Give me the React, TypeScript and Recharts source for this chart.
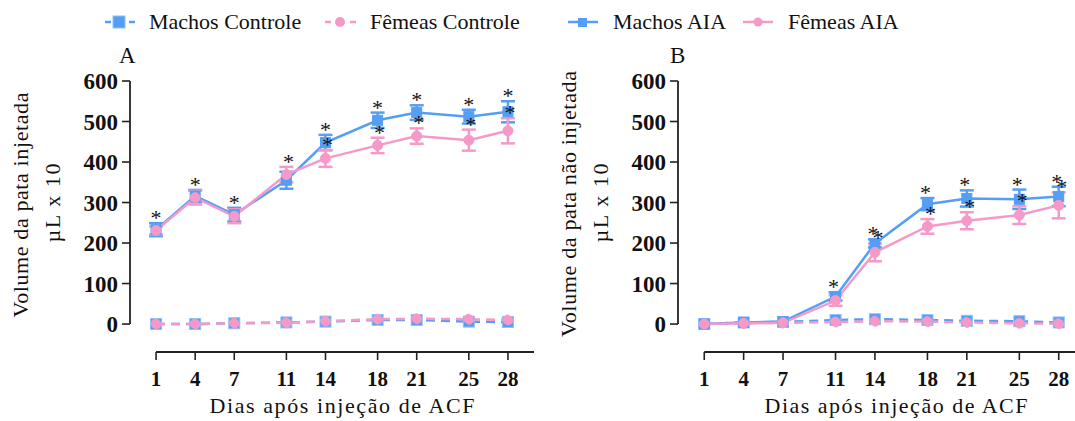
import React from 'react';
import { ComposedChart, Line, XAxis, YAxis, ErrorBar, ReferenceLine, Scatter } from 'recharts';

const FONT = "'Liberation Serif', 'Times New Roman', serif";
const BLUE = '#559ef5';
const BLUE_EDGE = '#8fc2fa';
const PINK = '#f59ac8';
const AXIS = '#222';

// Shared categories / ticks
const days = [1, 4, 7, 11, 14, 18, 21, 25, 28];
const yTicks = [0, 100, 200, 300, 400, 500, 600];

// Panel A – pata injetada
const machosControleA = [0, 0, 2, 4, 6, 10, 10, 6, 5];
const femeasControleA = [0, 0, 2, 3, 7, 12, 13, 12, 10];
const machosAIA_A = [233, 316, 270, 355, 448, 503, 522, 512, 524];
const machosAIAErrA = [16, 15, 17, 21, 19, 19, 18, 17, 26];
const femeasAIA_A = [231, 312, 266, 369, 409, 441, 464, 454, 477];
const femeasAIAErrA = [10, 17, 17, 19, 21, 19, 19, 26, 31];
const starsMachosA = [1, 1, 1, 0, 1, 1, 1, 1, 1];
const starsFemeasA = [0, 0, 0, 1, 1, 1, 1, 1, 1];

// Panel B – pata não injetada
const machosControleB = [0, 4, 5, 10, 12, 10, 8, 7, 4];
const femeasControleB = [0, 2, 3, 5, 7, 6, 4, 2, 1];
const machosAIA_B = [0, 4, 6, 68, 199, 296, 310, 308, 315];
const machosAIAErrB = [0, 0, 0, 10, 10, 15, 20, 24, 24];
const femeasAIA_B = [0, 2, 3, 58, 177, 241, 255, 269, 293];
const femeasAIAErrB = [0, 0, 0, 13, 22, 18, 21, 22, 32];
const starsMachosB = [0, 0, 0, 1, 1, 1, 1, 1, 1];
const starsFemeasB = [0, 0, 0, 0, 1, 1, 1, 1, 1];

function buildRows(mc: number[], fc: number[], ma: number[], maErr: number[], fa: number[], faErr: number[]) {
  return days.map((d, i) => ({
    day: d,
    mc: mc[i],
    fc: fc[i],
    ma: ma[i],
    maErr: maErr[i] ? maErr[i] : null,
    fa: fa[i],
    faErr: faErr[i] ? faErr[i] : null,
  }));
}

function buildStars(vals: number[], errs: number[], flags: number[]) {
  const out: { day: number; top: number }[] = [];
  days.forEach((d, i) => {
    if (flags[i]) out.push({ day: d, top: vals[i] + errs[i] });
  });
  return out;
}

const squareDot = (size: number, fill: string, stroke: string) => (p: any) => {
  if (p.cx == null || p.cy == null) return <g key={`sq-${p.index}`} />;
  return (
    <rect
      key={`sq-${p.index}`}
      x={p.cx - size / 2}
      y={p.cy - size / 2}
      width={size}
      height={size}
      fill={fill}
      stroke={stroke}
      strokeWidth={1}
    />
  );
};

const starShape = (dx: number) => (p: any) => (
  <text
    x={p.cx + dx}
    y={p.cy + 2}
    textAnchor="middle"
    fontSize={22}
    fontFamily={FONT}
    fill="#111"
  >
    *
  </text>
);

type PanelProps = {
  left: number;
  width: number;
  marginRight: number;
  domainMax: number;
  rows: any[];
  starsM: { day: number; top: number }[];
  starsF: { day: number; top: number }[];
  dxM: number;
  dxF: number;
};

function Panel({ left, width, marginRight, domainMax, rows, starsM, starsF, dxM, dxF }: PanelProps) {
  const tickStyle = { fontSize: 21, fontWeight: 'bold', fill: '#111', fontFamily: FONT } as any;
  const yTickStyle = { fontSize: 23, fontWeight: 'bold', fill: '#111', fontFamily: FONT } as any;
  return (
    <div style={{ position: 'absolute', left, top: 0 }}>
      <ComposedChart
        width={width}
        height={421}
        data={rows}
        margin={{ top: 81, right: marginRight, bottom: 29, left: 0 }}
      >
        <XAxis
          dataKey="day"
          type="number"
          domain={[-1, domainMax]}
          ticks={days}
          interval={0}
          allowDataOverflow
          axisLine={false}
          tickLine={{ stroke: AXIS, strokeWidth: 1.6 }}
          tickSize={8}
          tickMargin={11}
          height={40}
          tick={tickStyle}
        />
        <YAxis
          type="number"
          domain={[-69, 600]}
          ticks={yTicks}
          interval={0}
          allowDataOverflow
          axisLine={false}
          tickLine={{ stroke: AXIS, strokeWidth: 1.6 }}
          tickSize={8}
          tickMargin={4}
          width={130}
          tick={yTickStyle}
        />
        <ReferenceLine
          segment={[{ x: -1, y: 0 }, { x: -1, y: 600 }]}
          stroke={AXIS}
          strokeWidth={1.8}
          ifOverflow="visible"
        />
        <ReferenceLine
          segment={[{ x: 1, y: -69 }, { x: domainMax, y: -69 }]}
          stroke={AXIS}
          strokeWidth={1.8}
          ifOverflow="visible"
        />
        <Line
          dataKey="mc"
          stroke={BLUE}
          strokeWidth={2.5}
          strokeDasharray="9 6"
          dot={squareDot(11, BLUE, BLUE_EDGE)}
          isAnimationActive={false}
        />
        <Line
          dataKey="fc"
          stroke={PINK}
          strokeWidth={2.5}
          strokeDasharray="9 6"
          dot={{ r: 5, fill: PINK, stroke: PINK, strokeWidth: 1 }}
          isAnimationActive={false}
        />
        <Line
          dataKey="ma"
          stroke={BLUE}
          strokeWidth={2.5}
          dot={squareDot(10, BLUE, BLUE)}
          isAnimationActive={false}
        >
          <ErrorBar dataKey="maErr" width={7} stroke={BLUE} strokeWidth={2.5} direction="y" />
        </Line>
        <Line
          dataKey="fa"
          stroke={PINK}
          strokeWidth={2.5}
          dot={{ r: 5, fill: PINK, stroke: PINK, strokeWidth: 1 }}
          isAnimationActive={false}
        >
          <ErrorBar dataKey="faErr" width={7} stroke={PINK} strokeWidth={2.5} direction="y" />
        </Line>
        <Scatter data={starsM} dataKey="top" shape={starShape(dxM)} isAnimationActive={false} />
        <Scatter data={starsF} dataKey="top" shape={starShape(dxF)} isAnimationActive={false} />
      </ComposedChart>
    </div>
  );
}

function Overlay() {
  const txt = { fontFamily: FONT, fill: '#111' } as any;
  return (
    <svg
      width={1075}
      height={421}
      style={{ position: 'absolute', left: 0, top: 0, pointerEvents: 'none' }}
    >
      {/* Legend */}
      <line x1={105} x2={111} y1={22} y2={22} stroke={BLUE} strokeWidth={2.5} />
      <rect x={113} y={16} width={12} height={12} fill={BLUE} stroke={BLUE_EDGE} strokeWidth={1} />
      <line x1={129} x2={135} y1={22} y2={22} stroke={BLUE} strokeWidth={2.5} />
      <text x={149} y={29} fontSize={22} {...txt}>Machos Controle</text>

      <line x1={325} x2={331} y1={22} y2={22} stroke={PINK} strokeWidth={2.5} />
      <circle cx={340} cy={22} r={5} fill={PINK} />
      <line x1={350} x2={356} y1={22} y2={22} stroke={PINK} strokeWidth={2.5} />
      <text x={370} y={29} fontSize={22} {...txt}>Fêmeas Controle</text>

      <line x1={568} x2={598} y1={22} y2={22} stroke={BLUE} strokeWidth={2.5} />
      <rect x={578} y={18} width={9} height={9} fill={BLUE} />
      <text x={613} y={29} fontSize={22} {...txt}>Machos AIA</text>

      <line x1={743} x2={773} y1={22} y2={22} stroke={PINK} strokeWidth={2.5} />
      <circle cx={758} cy={22} r={4.5} fill={PINK} />
      <text x={788} y={29} fontSize={22} {...txt}>Fêmeas AIA</text>

      {/* Panel letters */}
      <text x={119} y={63} fontSize={23} {...txt}>A</text>
      <text x={670} y={63} fontSize={23} {...txt}>B</text>

      {/* Y titles */}
      <text x={28} y={205} transform="rotate(-90, 28, 205)" textAnchor="middle" fontSize={22} textLength={225} lengthAdjust="spacing" {...txt}>
        Volume da pata injetada
      </text>
      <text x={60} y={203} transform="rotate(-90, 60, 203)" textAnchor="middle" fontSize={22} textLength={79} lengthAdjust="spacing" {...txt}>
        µL x 10
      </text>
      <text x={576} y={204} transform="rotate(-90, 576, 204)" textAnchor="middle" fontSize={22} textLength={266} lengthAdjust="spacing" {...txt}>
        Volume da pata não injetada
      </text>
      <text x={608} y={203} transform="rotate(-90, 608, 203)" textAnchor="middle" fontSize={22} textLength={79} lengthAdjust="spacing" {...txt}>
        µL x 10
      </text>

      {/* X titles */}
      <text x={342} y={413} textAnchor="middle" fontSize={22} textLength={265} lengthAdjust="spacing" {...txt}>
        Dias após injeção de ACF
      </text>
      <text x={896} y={413} textAnchor="middle" fontSize={22} textLength={263} lengthAdjust="spacing" {...txt}>
        Dias após injeção de ACF
      </text>
    </svg>
  );
}

export default function App() {
  const rowsA = buildRows(machosControleA, femeasControleA, machosAIA_A, machosAIAErrA, femeasAIA_A, femeasAIAErrA);
  const rowsB = buildRows(machosControleB, femeasControleB, machosAIA_B, machosAIAErrB, femeasAIA_B, femeasAIAErrB);
  return (
    <div
      style={{
        position: 'absolute',
        left: 0,
        top: 0,
        width: 1075,
        height: 421,
        overflow: 'hidden',
        background: '#fff',
      }}
    >
      <Panel
        left={0}
        width={540}
        marginRight={6}
        domainMax={30}
        rows={rowsA}
        starsM={buildStars(machosAIA_A, machosAIAErrA, starsMachosA)}
        starsF={buildStars(femeasAIA_A, femeasAIAErrA, starsFemeasA)}
        dxM={0}
        dxF={2}
      />
      <Panel
        left={548}
        width={527}
        marginRight={0}
        domainMax={29.24}
        rows={rowsB}
        starsM={buildStars(machosAIA_B, machosAIAErrB, starsMachosB)}
        starsF={buildStars(femeasAIA_B, femeasAIAErrB, starsFemeasB)}
        dxM={-2}
        dxF={3}
      />
      <Overlay />
    </div>
  );
}
